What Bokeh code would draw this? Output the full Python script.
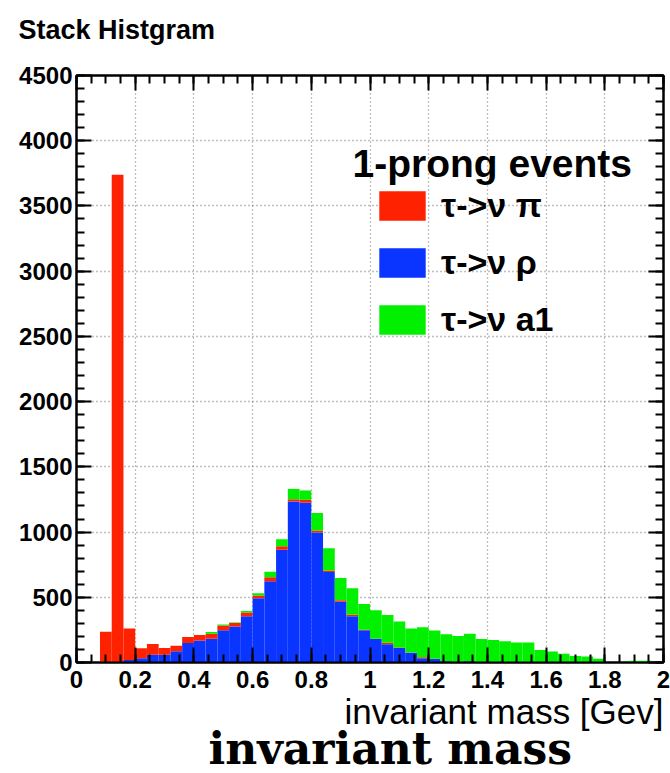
from bokeh.plotting import figure
from bokeh.models import (ColumnDataSource, Range1d, LinearAxis, SingleIntervalTicker,
                          CustomJSTickFormatter, Legend, LegendItem, Label, Title)
from bokeh.embed import file_html
from bokeh.resources import INLINE

# invariant-mass bins (GeV), width 0.04, given by their centres
bin_width = 0.04
bin_centers = [0.02, 0.06, 0.10, 0.14, 0.18, 0.22, 0.26, 0.30, 0.34, 0.38,
               0.42, 0.46, 0.50, 0.54, 0.58, 0.62, 0.66, 0.70, 0.74, 0.78,
               0.82, 0.86, 0.90, 0.94, 0.98, 1.02, 1.06, 1.10, 1.14, 1.18,
               1.22, 1.26, 1.30, 1.34, 1.38, 1.42, 1.46, 1.50, 1.54, 1.58,
               1.62, 1.66, 1.70, 1.74, 1.78, 1.82, 1.86, 1.90, 1.94, 1.98]

# event counts per bin for each decay channel
counts_rho = [0, 0, 0, 0, 20, 33, 59, 60, 87, 150,
              168, 183, 248, 276, 355, 492, 622, 865, 1235, 1225,
              997, 694, 465, 355, 248, 180, 140, 112, 74, 32,
              26, 10, 3, 10, 0, 0, 0, 0, 0, 0,
              0, 0, 0, 0, 0, 0, 0, 0, 0, 0]
counts_pi = [0, 0, 235, 3740, 240, 77, 82, 52, 42, 45,
             42, 37, 36, 26, 28, 22, 32, 27, 16, 22,
             15, 12, 13, 12, 3, 3, 12, 3, 3, 8,
             2, 0, 0, 0, 0, 0, 0, 0, 0, 0,
             0, 0, 0, 0, 0, 0, 0, 0, 0, 0]
counts_a1 = [0, 0, 0, 0, 0, 0, 0, 0, 0, 0,
             0, 13, 8, 4, 12, 16, 41, 53, 80, 72,
             135, 170, 170, 202, 198, 218, 213, 200, 183, 230,
             217, 207, 201, 210, 180, 172, 163, 154, 153, 96,
             84, 68, 50, 46, 28, 0, 0, 14, 14, 3]

channel_labels = ["τ->ν π", "τ->ν ρ", "τ->ν a1"]
x_tick_step = 0.2
y_tick_step = 500

source = ColumnDataSource(dict(x=bin_centers, rho=counts_rho, pi=counts_pi, a1=counts_a1))

p = figure(width=670, height=773, output_backend="svg", toolbar_location=None,
           x_range=Range1d(0, 2), y_range=Range1d(0, 4500),
           min_border_left=76, min_border_right=7, min_border_top=75, min_border_bottom=111,
           background_fill_color="white", border_fill_color="white")
p.outline_line_color = "black"
p.outline_line_width = 2

colors = ["#0a34ff", "#ff2200", "#00f000"]
bars = p.vbar_stack(["rho", "pi", "a1"], x="x", width=bin_width, source=source,
                    fill_color=colors, line_color=None)

font = "Liberation Sans"
xticker = SingleIntervalTicker(interval=x_tick_step, num_minor_ticks=4)
yticker = SingleIntervalTicker(interval=y_tick_step, num_minor_ticks=5)
xfmt = CustomJSTickFormatter(code="return (Math.round(tick*10)/10).toString();")
blank_fmt = CustomJSTickFormatter(code="return '';")


def style_axis(ax, show_labels):
    ax.axis_line_color = "black"
    ax.axis_line_width = 2
    ax.major_tick_in = 15
    ax.major_tick_out = 0
    ax.minor_tick_in = 8
    ax.minor_tick_out = 0
    ax.major_tick_line_width = 2
    ax.minor_tick_line_width = 2
    ax.major_tick_line_color = "black"
    ax.minor_tick_line_color = "black"
    if show_labels:
        ax.major_label_text_font = font
        ax.major_label_text_font_style = "bold"
        ax.major_label_text_font_size = "24px"
        ax.major_label_text_color = "black"
    else:
        ax.formatter = blank_fmt
        ax.major_label_standoff = 0


xa = p.xaxis[0]
xa.ticker = xticker
xa.formatter = xfmt
style_axis(xa, True)
xa.major_label_standoff = 8

ya = p.yaxis[0]
ya.ticker = yticker
style_axis(ya, True)
ya.major_label_standoff = 4

top_axis = LinearAxis(ticker=xticker)
style_axis(top_axis, False)
p.add_layout(top_axis, "above")
right_axis = LinearAxis(ticker=yticker)
style_axis(right_axis, False)
p.add_layout(right_axis, "right")

for g in (p.xgrid[0], p.ygrid[0]):
    g.grid_line_color = "#808080"
    g.grid_line_dash = "1 3"
    g.grid_line_width = 1.3
p.xgrid[0].ticker = xticker
p.ygrid[0].ticker = yticker

rho_r, pi_r, a1_r = bars
legend = Legend(items=[LegendItem(label=channel_labels[0], renderers=[pi_r]),
                       LegendItem(label=channel_labels[1], renderers=[rho_r]),
                       LegendItem(label=channel_labels[2], renderers=[a1_r])],
                location=(297, 323), orientation="vertical",
                glyph_width=58, glyph_height=37, label_height=37, spacing=18,
                padding=0, margin=0, label_standoff=10,
                border_line_color=None, background_fill_alpha=0,
                label_text_font=font, label_text_font_style="bold",
                label_text_color="black",
                label_text_font_size="34px", label_text_baseline="middle")
p.add_layout(legend)

p.add_layout(Label(x=276, y=499, x_units="screen", y_units="screen", text="1-prong events",
                   text_font=font, text_font_style="bold", text_font_size="39px",
                   text_color="black", text_baseline="alphabetic"))

# titles outside the frame; the trailing line break lifts the heading
# towards the top edge of the canvas
p.title.text = ""
p.add_layout(Title(text="Stack Histgram\n", align="left", offset=-58, standoff=2,
                   text_font=font, text_font_style="bold", text_font_size="27px",
                   text_color="black"), "above")
p.add_layout(Title(text="invariant mass [Gev]", align="right", standoff=-2,
                   text_font=font, text_font_style="normal", text_font_size="35px",
                   text_color="black"), "below")
p.add_layout(Title(text="invariant mass", align="left", offset=132, standoff=-17,
                   text_font="DejaVu Serif", text_font_style="bold", text_font_size="44px",
                   text_color="black"), "below")

open("out.html", "w").write(file_html(p, INLINE))
